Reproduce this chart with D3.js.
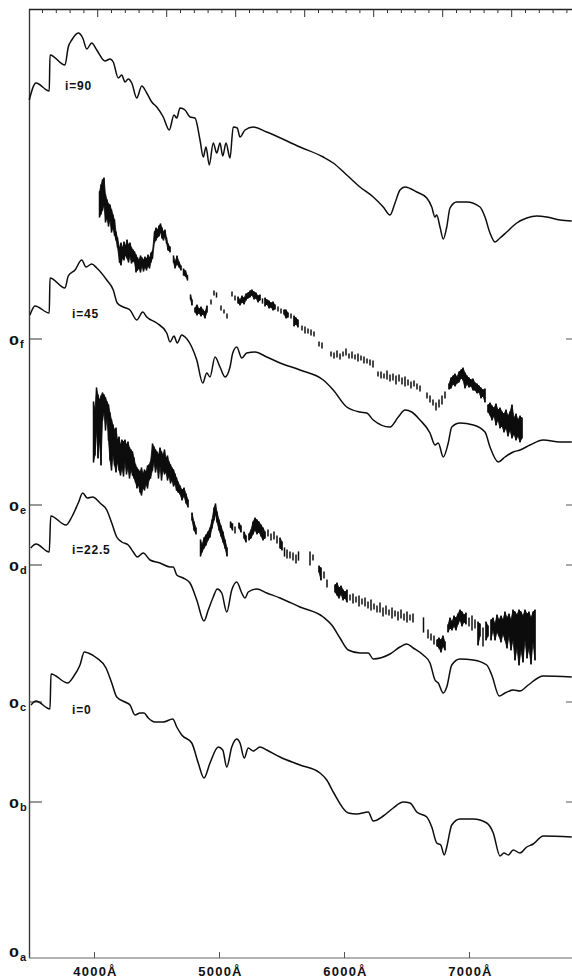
<!DOCTYPE html>
<html>
<head>
<meta charset="utf-8">
<script src="https://cdn.jsdelivr.net/npm/d3@7/dist/d3.min.js"></script>
<style>
  html, body { margin: 0; padding: 0; background: #fff; }
  svg { display: block; }
  text { font-family: "Liberation Sans", Arial, Helvetica, sans-serif; font-weight: bold; fill: #111; }
</style>
</head>
<body>
<svg id="chart" width="572" height="978"></svg>
<script>
// Wavelength axis (Angstrom) and labels
const wavelengthTicks = [4000, 5000, 6000, 7000];
const tickLabels = ["4000Å", "5000Å", "6000Å", "7000Å"];

// Zero levels of the stacked spectra (relative flux units)
const zeroLetters = ["a", "b", "c", "d", "e", "f"];
const zeroLevels = [0, 15.6, 25.6, 39.3, 45.3, 61.9];

// Model spectra: [wavelength, flux above own zero]
const model_i0 = [
  [3496,25.3],[3536,25.7],[3648,24.9],[3656,28.4],[3790,27.5],[3834,28.1],[3888,29.3],[3922,30.6],
  [3954,30.5],[4022,30.0],[4096,29.0],[4142,27.5],[4182,26.1],[4248,25.6],[4288,25.3],[4328,24.3],
  [4368,24.5],[4400,24.5],[4434,24.0],[4488,23.6],[4554,23.6],[4630,23.9],[4662,23.1],[4702,22.3],
  [4782,21.5],[4834,19.5],[4880,18.0],[4928,19.5],[4994,21.1],[5030,20.8],[5062,19.1],[5102,21.1],
  [5142,21.9],[5168,21.5],[5202,20.0],[5234,21.0],[5274,20.7],[5328,21.1],[5382,20.8],[5488,20.1],
  [5648,19.3],[5808,18.5],[5862,17.8],[5914,16.6],[6034,14.5],[6102,14.4],[6194,14.6],[6234,13.7],
  [6314,14.2],[6394,15.0],[6474,15.6],[6528,15.5],[6582,14.6],[6662,14.1],[6702,13.1],[6742,11.5],
  [6774,11.3],[6802,10.3],[6822,11.1],[6862,13.3],[6928,13.9],[7034,13.9],[7142,13.5],[7194,12.5],
  [7248,10.2],[7280,10.5],[7314,10.3],[7354,10.8],[7408,10.5],[7462,11.1],[7514,11.4],[7594,12.2],
  [7822,12.1]
];
const model_i22 = [
  [3494,25.4],[3536,25.8],[3642,25.0],[3654,28.6],[3776,27.7],[3822,28.5],[3874,29.9],[3910,30.9],
  [3946,30.4],[3990,30.5],[4048,29.9],[4102,29.2],[4142,27.9],[4182,26.5],[4222,26.0],[4274,25.7],
  [4314,25.0],[4346,24.5],[4394,24.9],[4448,24.2],[4528,23.9],[4608,23.5],[4634,23.5],[4662,22.7],
  [4714,22.4],[4768,21.9],[4822,20.2],[4880,18.1],[4914,19.2],[4954,20.5],[4986,21.3],[5022,20.9],
  [5062,19.0],[5102,21.2],[5142,22.0],[5182,20.9],[5208,20.4],[5234,21.0],[5302,21.3],[5382,20.9],
  [5488,20.4],[5648,19.5],[5834,18.5],[5902,17.7],[5968,16.4],[6034,15.2],[6128,14.9],[6194,14.9],
  [6234,14.3],[6368,14.8],[6448,15.5],[6502,15.8],[6554,15.4],[6634,14.7],[6688,13.9],[6728,12.2],
  [6754,11.9],[6794,10.9],[6822,11.5],[6862,13.7],[6928,14.3],[7034,14.2],[7142,13.7],[7182,12.7],
  [7242,10.6],[7288,10.9],[7354,11.2],[7408,11.1],[7474,11.7],[7594,12.6],[7822,12.5]
];
const model_i45 = [
  [3488,25.0],[3528,25.9],[3642,25.2],[3648,28.7],[3768,27.7],[3794,28.9],[3848,29.5],[3902,30.5],
  [3936,29.8],[3982,30.1],[4022,29.7],[4102,28.5],[4154,27.5],[4186,26.2],[4234,25.8],[4288,25.5],
  [4342,24.5],[4390,25.3],[4422,24.8],[4502,24.2],[4582,23.2],[4608,22.3],[4640,22.9],[4666,22.2],
  [4702,23.0],[4728,22.8],[4782,21.8],[4822,20.5],[4870,18.2],[4902,19.2],[4928,18.8],[4968,20.8],
  [5008,19.8],[5048,18.8],[5088,19.8],[5110,21.2],[5142,21.8],[5182,20.7],[5222,21.2],[5288,21.3],
  [5382,20.8],[5488,20.2],[5648,19.5],[5834,18.5],[5914,17.5],[6022,15.8],[6128,15.3],[6182,15.2],
  [6234,14.5],[6368,13.8],[6434,14.8],[6488,15.5],[6542,15.3],[6608,14.5],[6688,13.2],[6728,12.0],
  [6754,12.2],[6794,10.8],[6834,12.2],[6862,13.8],[6928,14.2],[7034,14.0],[7128,13.3],[7168,11.8],
  [7234,10.3],[7288,10.8],[7354,11.3],[7408,11.5],[7488,12.0],[7594,12.5],[7728,12.3],[7822,12.3]
];
const model_i90 = [
  [3482,23.9],[3536,25.6],[3642,24.8],[3648,28.4],[3768,27.4],[3794,29.2],[3822,29.9],[3874,30.6],
  [3910,30.1],[3942,29.0],[3982,29.6],[4022,28.9],[4088,27.8],[4128,28.0],[4154,27.7],[4194,26.1],
  [4222,26.4],[4248,25.7],[4274,26.0],[4302,25.6],[4342,24.1],[4382,25.3],[4422,24.6],[4462,23.7],
  [4502,23.2],[4554,22.2],[4602,20.9],[4640,22.4],[4662,22.1],[4688,23.1],[4728,22.9],[4768,22.2],
  [4808,22.1],[4848,19.9],[4874,18.2],[4896,19.2],[4922,17.4],[4954,19.6],[4982,18.6],[5008,19.6],
  [5030,18.3],[5056,19.6],[5088,18.1],[5114,21.2],[5146,21.1],[5168,20.2],[5208,20.9],[5274,21.2],
  [5382,20.7],[5648,19.2],[5834,18.2],[5914,17.6],[6022,16.4],[6128,15.2],[6234,14.2],[6314,13.2],
  [6368,12.4],[6408,13.6],[6448,14.9],[6488,15.2],[6582,14.7],[6662,14.1],[6702,13.2],[6728,12.2],
  [6742,12.4],[6768,11.2],[6794,10.0],[6822,11.2],[6848,13.1],[6902,13.7],[6982,13.7],[7088,13.2],
  [7128,12.2],[7168,10.6],[7208,9.7],[7248,10.1],[7302,10.7],[7382,11.6],[7462,12.1],[7542,12.3],
  [7622,12.2],[7728,11.9],[7822,11.8]
];

// Observed spectra: [wavelength, low flux, high flux] of each recorded sample
const observedLower = [
  [3996,24.0,30.0],[4008,24.7,29.2],[4020,27.2,31.4],[4032,24.4,30.7],[4044,26.2,30.2],[4056,23.7,30.6],
  [4068,28.2,30.9],[4080,29.0,30.7],[4092,27.2,30.4],[4104,28.4,30.0],[4116,26.2,29.7],[4128,24.2,28.9],
  [4140,23.2,28.2],[4152,24.7,27.7],[4164,23.7,27.2],[4176,23.0,27.4],[4188,24.0,26.2],[4200,23.2,26.5],
  [4212,22.7,25.7],[4224,23.4,26.2],[4236,22.6,26.0],[4248,24.0,26.2],[4260,22.8,25.7],[4272,23.4,26.0],
  [4284,22.4,25.4],[4296,23.2,25.2],[4308,22.7,25.0],[4320,22.4,24.4],[4332,22.0,23.7],[4344,21.4,23.4],
  [4356,21.7,23.2],[4368,21.0,23.0],[4380,20.7,23.4],[4392,21.4,22.8],[4404,21.2,23.2],[4416,21.8,23.0],
  [4428,21.4,23.6],[4440,22.2,23.7],[4452,22.4,24.0],[4468,23.2,25.8],[4480,24.0,25.5],[4492,23.0,25.2],
  [4504,23.6,25.0],[4516,22.4,24.7],[4528,23.6,25.4],[4540,22.2,25.0],[4552,23.2,24.7],[4564,22.8,25.2],
  [4576,23.0,24.4],[4588,22.2,24.6],[4600,22.6,24.0],[4612,21.9,23.7],[4624,22.2,23.4],[4636,21.6,23.2],
  [4648,21.8,22.8],[4660,21.2,22.4],[4672,21.0,22.0],[4688,20.8,21.6],[4704,20.2,21.2],[4720,20.6,21.4],
  [4736,19.9,20.8],[4752,19.5,20.2],[4784,18.2,18.9],[4800,17.2,18.0],[4816,16.8,17.4],[4852,14.6,16.2],
  [4864,15.0,15.7],[4880,15.4,16.4],[4896,15.7,16.7],[4912,16.2,17.0],[4928,16.5,17.4],[4944,17.4,18.2],
  [4960,18.2,19.4],[4972,18.8,19.8],[4984,18.0,19.0],[5000,17.2,18.2],[5016,16.6,17.6],[5032,16.0,17.0],
  [5048,15.4,16.2],[5064,14.6,15.4],[5092,17.5,18.0],[5108,17.2,17.8],[5128,16.9,17.5],[5160,17.4,17.9],
  [5176,17.0,17.6],[5200,16.4,17.0],[5216,16.0,16.6],[5240,16.2,16.8],[5256,16.4,17.2],[5272,16.8,18.0],
  [5288,17.2,18.4],[5304,16.8,18.2],[5320,17.0,18.0],[5336,16.6,17.7],[5352,16.2,17.4],[5368,16.4,17.0],
  [5392,16.6,17.2],[5416,16.2,16.8],[5440,16.3,17.0],[5464,15.9,16.6],[5488,15.4,16.4],[5504,15.2,16.0],
  [5524,14.6,15.4],[5544,14.4,15.2],[5568,14.4,15.0],[5592,14.2,14.9],[5616,13.9,14.7],[5636,14.2,15.0],
  [5728,13.7,15.0],[5752,14.2,14.7],[5800,13.0,13.6],[5816,12.2,13.4],[5840,12.4,13.0],[5864,11.5,12.2],
  [5928,11.0,11.7],[5944,10.7,11.9],[5960,10.4,11.4],[5976,10.8,11.6],[5992,10.2,11.2],[6008,10.4,11.0],
  [6024,10.0,11.2],[6048,10.2,10.7],[6072,9.9,10.8],[6096,10.0,10.5],[6120,9.6,10.6],[6144,9.8,10.3],
  [6168,9.6,10.4],[6192,9.4,10.0],[6216,9.2,10.2],[6240,9.3,9.8],[6264,9.0,9.6],[6288,9.0,9.9],
  [6312,8.6,9.4],[6336,8.8,9.6],[6360,8.7,9.2],[6384,8.4,9.4],[6408,8.6,9.1],[6432,8.2,9.0],
  [6456,8.4,9.2],[6480,8.2,8.8],[6504,8.0,9.0],[6528,8.2,8.7],[6552,8.0,8.8],[6636,7.0,8.4],
  [6672,6.4,7.2],[6696,6.2,6.8],[6720,5.8,6.6],[6744,5.6,6.2],[6760,5.4,6.4],[6776,5.0,6.2],
  [6792,5.6,6.6],[6808,5.2,6.0],[6832,7.0,7.7],[6848,7.4,8.4],[6864,7.2,8.0],[6880,7.6,8.6],
  [6896,7.2,8.4],[6912,7.8,8.8],[6928,8.2,9.2],[6944,7.6,9.0],[6960,8.0,8.7],[6976,7.8,8.9],
  [7000,7.6,8.4],[7024,7.2,8.6],[7048,7.4,8.2],[7072,5.7,8.0],[7088,6.6,7.8],[7112,5.6,7.4],
  [7136,6.2,8.0],[7152,6.6,7.6],[7176,6.2,8.2],[7192,7.2,8.4],[7208,6.2,7.8],[7224,7.0,8.7],
  [7240,6.6,8.2],[7256,6.0,8.6],[7272,6.8,8.2],[7288,6.2,9.0],[7304,5.4,8.4],[7320,6.6,8.8],
  [7336,5.2,8.2],[7352,6.2,9.2],[7368,4.2,9.0],[7384,5.4,8.7],[7400,3.7,9.2],[7416,5.2,9.0],
  [7432,4.0,8.6],[7448,6.2,9.2],[7464,4.4,8.8],[7480,5.4,9.0],[7496,3.8,8.4],[7512,6.0,9.0],
  [7528,4.2,9.2]
];
const observedUpper = [
  [4044,28.8,31.3],[4056,29.1,32.0],[4068,29.5,32.5],[4080,30.0,32.7],[4092,28.3,31.0],[4104,28.7,30.5],
  [4116,27.9,30.1],[4128,28.5,30.0],[4140,27.3,29.5],[4152,27.7,29.0],[4164,27.0,28.5],[4176,26.5,27.3],
  [4188,25.8,26.7],[4204,24.3,25.7],[4216,24.0,26.2],[4228,24.7,25.7],[4240,24.5,26.3],[4252,25.0,25.9],
  [4264,24.7,26.5],[4276,24.3,26.0],[4288,24.9,26.2],[4300,24.2,25.7],[4312,24.4,25.5],[4324,24.3,25.3],
  [4336,23.3,25.0],[4348,23.5,24.7],[4360,23.7,24.5],[4372,23.3,24.9],[4384,23.9,24.7],[4396,23.4,24.5],
  [4408,23.8,24.8],[4420,23.5,24.6],[4432,23.9,25.0],[4444,23.7,24.7],[4456,24.3,25.2],[4468,24.7,25.4],
  [4484,26.3,27.3],[4496,26.5,27.7],[4508,26.8,27.5],[4520,26.9,27.9],[4532,27.3,28.1],[4544,26.7,27.7],
  [4556,26.5,27.3],[4568,26.9,27.5],[4580,26.2,26.7],[4592,25.5,26.1],[4608,25.3,25.8],[4636,24.3,24.9],
  [4648,23.7,24.3],[4664,24.1,24.9],[4680,23.8,24.3],[4696,23.5,23.9],[4716,23.0,23.6],[4732,22.9,23.4],
  [4748,22.5,22.9],[4772,20.6,21.0],[4784,20.0,20.5],[4808,19.3,19.7],[4824,19.0,20.0],[4840,19.2,19.6],
  [4856,18.9,19.8],[4872,19.1,19.5],[4888,18.7,19.3],[4904,19.3,19.9],[4936,20.1,20.5],[4960,21.0,21.4],
  [4980,20.8,21.2],[5016,19.5,19.9],[5040,19.2,19.5],[5064,18.7,19.1],[5104,20.9,21.3],[5128,20.5,20.9],
  [5152,20.2,20.8],[5168,20.0,20.5],[5184,20.3,20.9],[5200,20.1,20.7],[5216,20.5,21.1],[5232,20.7,21.2],
  [5248,20.8,21.4],[5264,21.0,21.5],[5280,20.6,21.3],[5296,20.7,21.2],[5312,20.3,20.9],[5328,20.5,21.0],
  [5348,20.2,20.6],[5368,19.9,20.7],[5384,20.1,20.5],[5400,19.7,20.4],[5416,19.8,20.2],[5432,19.5,20.3],
  [5448,19.6,20.0],[5472,19.4,19.8],[5496,19.2,19.6],[5520,19.1,19.5],[5536,18.7,19.5],[5552,18.8,19.2],
  [5576,18.7,19.1],[5600,17.9,18.9],[5616,18.1,18.7],[5632,17.8,18.5],[5664,17.5,17.9],[5688,17.2,17.8],
  [5712,17.2,17.6],[5736,17.0,17.5],[5760,16.9,17.3],[5800,15.9,16.3],[5824,15.7,16.2],[5896,14.9,15.3],
  [5920,14.7,15.2],[5944,14.8,15.4],[5968,14.6,15.1],[5992,14.9,15.3],[6016,15.0,15.6],[6040,14.7,15.1],
  [6064,14.7,15.3],[6088,14.6,15.0],[6112,14.4,15.1],[6136,14.5,14.9],[6160,14.2,14.8],[6184,14.2,14.6],
  [6208,14.0,14.5],[6232,13.8,14.4],[6272,12.9,13.3],[6296,12.7,13.3],[6320,12.7,13.1],[6344,12.6,13.4],
  [6368,12.4,13.0],[6392,12.5,13.1],[6416,12.1,12.9],[6440,12.4,13.0],[6464,12.1,12.7],[6488,11.9,12.8],
  [6512,12.0,12.5],[6536,11.7,12.3],[6560,11.9,12.4],[6584,11.6,12.1],[6608,11.4,11.9],[6664,10.7,11.2],
  [6688,10.3,10.9],[6712,10.0,10.5],[6736,9.5,10.2],[6760,9.8,10.5],[6784,10.1,10.9],[6808,10.7,11.3],
  [6840,11.6,12.1],[6856,11.7,12.7],[6872,12.1,12.9],[6888,11.9,13.1],[6904,12.2,12.8],[6920,12.3,13.3],
  [6936,12.7,13.5],[6952,12.5,13.7],[6968,11.7,13.2],[6984,12.1,12.9],[7000,11.8,12.7],[7016,11.9,12.5],
  [7032,11.5,12.6],[7048,11.5,12.2],[7064,11.2,12.1],[7080,11.3,11.9],[7096,10.7,11.7],[7112,10.9,11.5],
  [7128,10.3,11.6],[7152,9.3,10.0],[7168,9.0,10.2],[7184,8.5,9.9],[7200,8.9,9.7],[7216,8.0,10.1],
  [7232,8.5,9.5],[7248,7.7,9.7],[7264,7.9,9.3],[7280,7.3,9.1],[7296,7.7,9.5],[7312,6.9,8.9],
  [7328,7.5,9.3],[7344,6.7,10.0],[7360,7.1,8.7],[7376,6.5,9.1],[7392,6.9,8.5],[7408,6.3,8.9],
  [7424,6.7,8.7]
];

// Each spectrum with the zero level it is plotted on
const models = [
  { name: "i=0",    data: model_i0,  zero: 0 },
  { name: "i=22.5", data: model_i22, zero: 1 },
  { name: "i=45",   data: model_i45, zero: 3 },
  { name: "i=90",   data: model_i90, zero: 5 }
];
const observed = [
  { data: observedLower, zero: 2 },
  { data: observedUpper, zero: 4 }
];

// ---- layout ----
const W = 572, H = 978;
const plot = { left: 29, right: 572, top: 9, bottom: 958 };

const x = d3.scaleLinear().domain([3480, 7824]).range([plot.left, plot.right]);
const y = d3.scaleLinear().domain([0, 94.9]).range([plot.bottom, plot.top]);

const svg = d3.select("#chart");
const ink = "#0d0d0d";

// Frame: left, top and bottom edges
svg.append("line").attr("x1", plot.left + 0.5).attr("x2", plot.left + 0.5)
  .attr("y1", plot.top).attr("y2", plot.bottom)
  .attr("stroke", "#3a3a3a").attr("stroke-width", 1.4);
svg.append("line").attr("x1", plot.left).attr("x2", plot.right)
  .attr("y1", plot.top + 0.5).attr("y2", plot.top + 0.5)
  .attr("stroke", "#222").attr("stroke-width", 1.4);
svg.append("line").attr("x1", plot.left).attr("x2", plot.right)
  .attr("y1", plot.bottom).attr("y2", plot.bottom)
  .attr("stroke", "#666").attr("stroke-width", 1.1);

// Top edge ticks (every 110.4 Å, every fifth one long)
const topStart = 3588, topStep = 110.4;
const topTicks = d3.range(0, 39).map(k => ({ v: topStart + k * topStep, major: k % 5 === 4 }));
svg.append("g").selectAll("line").data(topTicks).join("line")
  .attr("x1", d => x(d.v)).attr("x2", d => x(d.v))
  .attr("y1", plot.top).attr("y2", d => plot.top + (d.major ? 8 : 4))
  .attr("stroke", "#333").attr("stroke-width", 1);

// Bottom wavelength axis
const xAxis = d3.axisTop(x).tickValues(wavelengthTicks).tickSize(6).tickFormat("");
const gx = svg.append("g").attr("transform", `translate(0,${plot.bottom})`).call(xAxis);
gx.select(".domain").remove();
gx.selectAll(".tick line").attr("stroke", "#555").attr("stroke-width", 1);

svg.append("g").selectAll("text").data(wavelengthTicks).join("text")
  .attr("x", d => x(d) + 1.5).attr("y", 976)
  .attr("text-anchor", "middle")
  .attr("font-size", 13).attr("letter-spacing", 1.2)
  .text((d, i) => tickLabels[i]);

// Zero-level marks and labels
zeroLevels.forEach((z, i) => {
  const yy = y(z);
  if (i > 0) {
    svg.append("line").attr("x1", plot.left).attr("x2", plot.left + 13)
      .attr("y1", yy).attr("y2", yy).attr("stroke", "#444").attr("stroke-width", 1.1);
    svg.append("line").attr("x1", W - 6).attr("x2", W)
      .attr("y1", yy).attr("y2", yy).attr("stroke", "#555").attr("stroke-width", 1);
  }
  const base = i === 0 ? yy - 1 : yy + 5.5;
  const t = svg.append("text").attr("x", 9).attr("y", base).attr("font-size", 13.5);
  t.append("tspan").text("0").attr("textLength", 10).attr("lengthAdjust", "spacingAndGlyphs");
  t.append("tspan").attr("dx", 1).attr("dy", 3.5).attr("font-size", 11).text(zeroLetters[i]);
});

// Model curves
const line = d3.line()
  .x(d => x(d[0]))
  .curve(d3.curveMonotoneX);

models.forEach(m => {
  const z = zeroLevels[m.zero];
  svg.append("path")
    .datum(m.data)
    .attr("fill", "none")
    .attr("stroke", ink)
    .attr("stroke-width", 1.5)
    .attr("stroke-linejoin", "round")
    .attr("d", line.y(d => y(z + d[1])));
});

// Observed spectra: densely sampled stretches form a filled noise band,
// every sample also drawn as its own vertical stroke
const band = d3.area().x(d => x(d[0])).curve(d3.curveLinear);
observed.forEach(o => {
  const z = zeroLevels[o.zero];
  const runs = [];
  let cur = [o.data[0]];
  for (let i = 1; i < o.data.length; i++) {
    if (o.data[i][0] - o.data[i - 1][0] <= 17) cur.push(o.data[i]);
    else { runs.push(cur); cur = [o.data[i]]; }
  }
  runs.push(cur);
  const g = svg.append("g");
  runs.filter(r => r.length > 1).forEach(r => {
    g.append("path").datum(r)
      .attr("fill", ink).attr("stroke", ink).attr("stroke-width", 0.8)
      .attr("stroke-linejoin", "round")
      .attr("d", band.y0(d => y(z + d[1])).y1(d => y(z + d[2])));
  });
  g.selectAll("line").data(o.data).join("line")
    .attr("x1", d => x(d[0])).attr("x2", d => x(d[0]))
    .attr("y1", d => y(z + d[2]) - 0.6)
    .attr("y2", d => y(z + d[1]) + 0.6)
    .attr("stroke", ink).attr("stroke-width", 1.5);
});

// Inclination labels
const labelPos = { "i=90": [65, 90], "i=45": [72, 318], "i=22.5": [72, 554], "i=0": [72, 714] };
models.forEach(m => {
  const p = labelPos[m.name];
  svg.append("text").attr("x", p[0]).attr("y", p[1])
    .attr("font-size", 12).attr("letter-spacing", 0.8)
    .text(m.name);
});
</script>
</body>
</html>
